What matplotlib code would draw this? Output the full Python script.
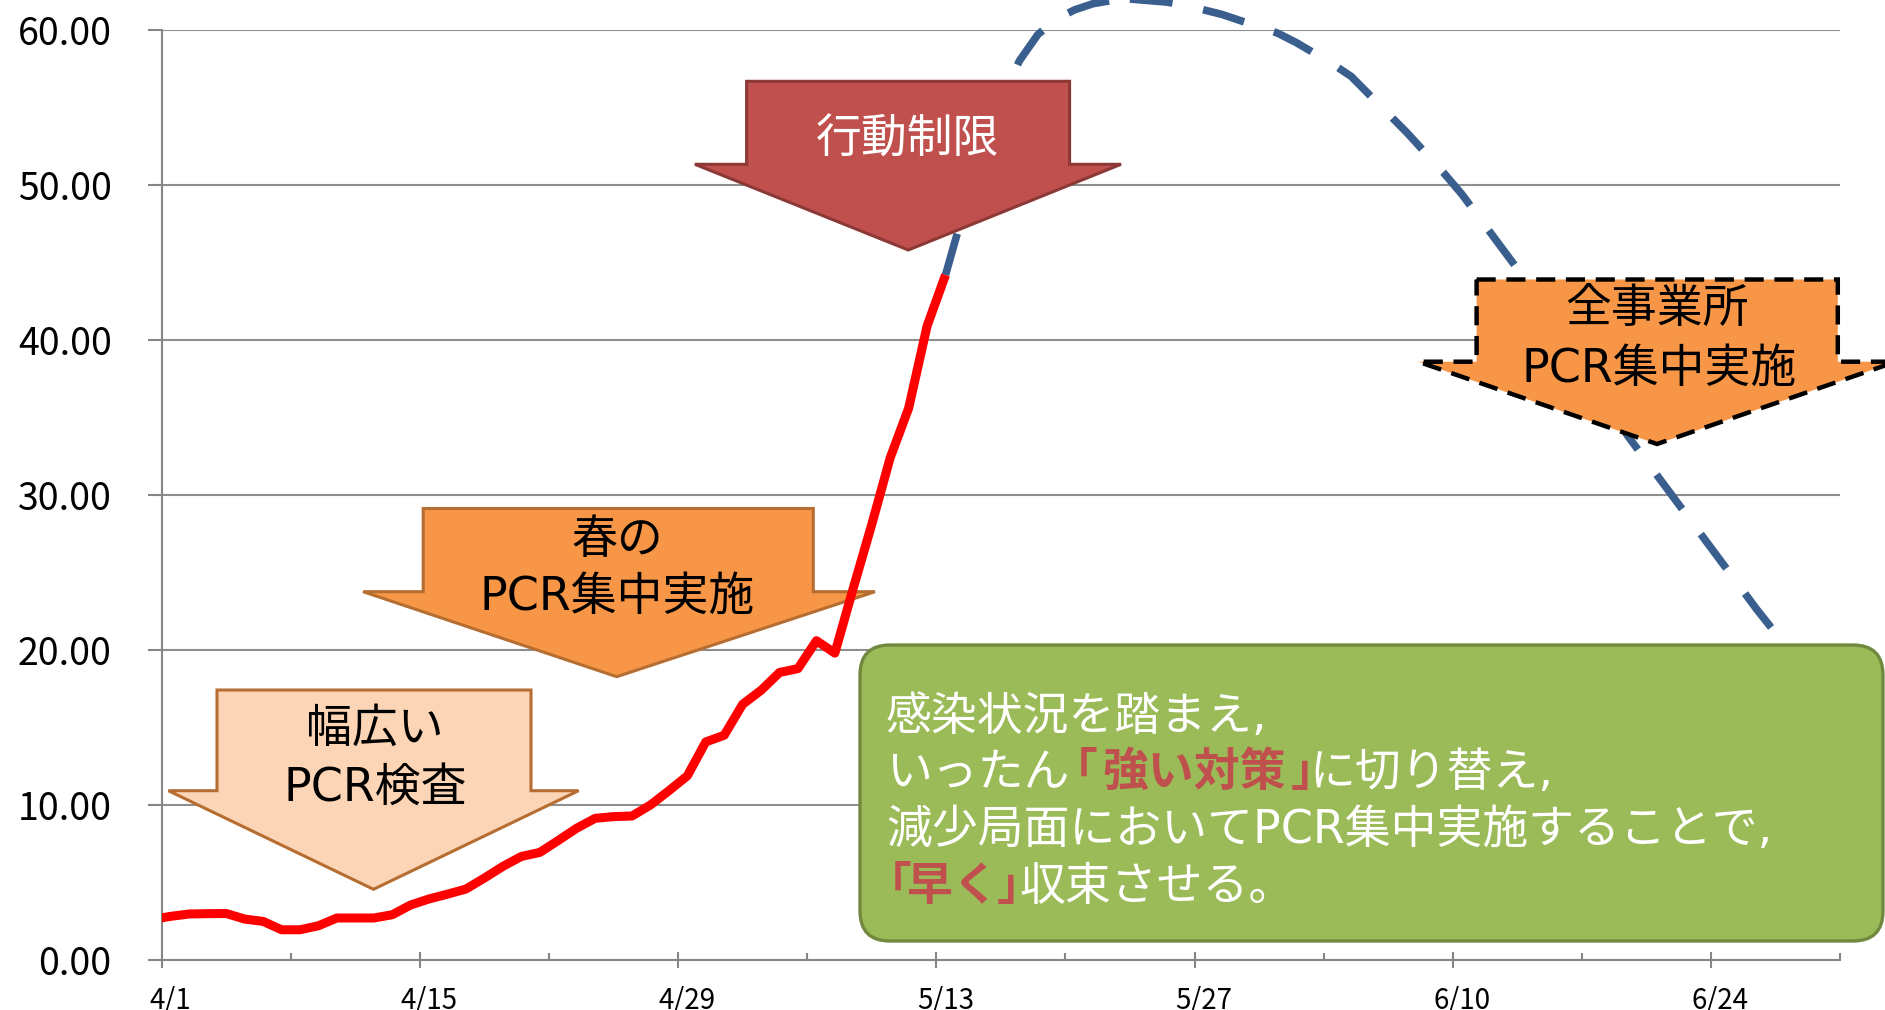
import numpy as np
import matplotlib.pyplot as plt
from matplotlib.patches import Polygon, FancyBboxPatch
from matplotlib.transforms import IdentityTransform, ScaledTranslation

plt.rcParams['font.family'] = ['DejaVu Sans', 'Noto Sans CJK JP']

# 実績（4/1からの日数、点は各日の中央 = 日数-0.5 から 1日刻み）
red_vals = [2.62, 2.82, 2.97, 2.99, 3.0, 2.64, 2.49, 1.95, 1.95, 2.21, 2.71,
            2.71, 2.71, 2.92, 3.55, 3.94, 4.25, 4.58, 5.29, 6.04, 6.68, 6.94,
            7.71, 8.5, 9.14, 9.25, 9.29, 10.0, 10.92, 11.88, 14.07, 14.5, 16.5,
            17.4, 18.55, 18.8, 20.6, 19.8, 24.0, 28.1, 32.4, 35.6, 40.9, 44.2]
# 見通し（破線、42.5日目から1日刻み）
blue_start = 42.5
blue_vals = [44.2, 48.4, 51.8, 55.3, 58.0, 59.7, 60.7, 61.3, 61.7, 61.9,
             62.0, 61.9, 61.8, 61.6, 61.3, 61.0, 60.6, 60.2, 59.8, 59.2,
             58.5, 57.8, 57.0, 55.8, 54.6, 53.4, 52.1, 50.8, 49.4, 47.8,
             46.2, 44.6, 43.0, 41.2, 39.4, 37.5, 35.6, 33.8, 32.2, 30.6,
             29.0, 27.4, 25.8, 24.2, 22.6, 21.1, 19.7, 18.3, 17.0, 15.8]

xtick_days = [0, 14, 28, 42, 56, 70, 84]
xtick_labels = ['4/1', '4/15', '4/29', '5/13', '5/27', '6/10', '6/24']
xminor_days = [7, 21, 35, 49, 63, 77, 91]
ytick_vals = [0, 10, 20, 30, 40, 50, 60]

W, H = 1885, 1010
fig = plt.figure(figsize=(W / 100, H / 100), dpi=100)
ax = fig.add_axes([161.7 / W, 1 - 960 / H, (1840 - 161.7) / W, (960 - 30) / H])

red_x = np.arange(len(red_vals)) - 0.5
blue_x = blue_start + np.arange(len(blue_vals))

ax.plot(blue_x, blue_vals, color='#3a5f8e', lw=5.5, linestyle=(0, (5.6, 4.1)),
        dash_capstyle='butt', zorder=2, clip_on=False)
ax.plot(red_x, red_vals, color='#ff0000', lw=6.5, solid_joinstyle='round',
        solid_capstyle='butt', zorder=4)

ax.set_xlim(0, 91)
ax.set_ylim(0, 60)
ax.set_xticks(xtick_days)
ax.set_xticklabels(xtick_labels)
ax.set_xticks(xminor_days, minor=True)
ax.set_yticks(ytick_vals)
ax.set_yticklabels(['%.2f' % v for v in ytick_vals])

for s in ['top', 'right']:
    ax.spines[s].set_visible(False)
for s in ['left', 'bottom']:
    ax.spines[s].set_color('#868686')
    ax.spines[s].set_linewidth(1.5)
ax.set_axisbelow(True)
ax.yaxis.grid(True, color='#8e8e8e', lw=1.5)

ax.tick_params(axis='y', direction='out', length=10, width=1.5, color='#868686',
               pad=26, labelsize=27, labelfontfamily='Noto Sans CJK JP')
ax.tick_params(axis='x', which='major', direction='inout', length=12, width=1.5,
               color='#868686', pad=13, labelsize=20,
               labelfontfamily='Noto Sans CJK JP')
ax.tick_params(axis='x', which='minor', direction='in', length=5, width=1.5,
               color='#868686')
for t in ax.xaxis.get_major_ticks():
    t.label1.set_transform(t.label1.get_transform()
                           + ScaledTranslation(0.09, 0, fig.dpi_scale_trans))

# --- 図形（ピクセル座標、左上原点） ---
idt = IdentityTransform()


def P(x, y):
    return (x, H - y)


def down_arrow(left, right, top, sh_y, sh_l, sh_r, tip, fc, ec, lw, ls='-', z=3):
    pts = [P(left, top), P(right, top), P(right, sh_y), P(sh_r, sh_y),
           P(*tip), P(sh_l, sh_y), P(left, sh_y)]
    poly = Polygon(pts, closed=True, facecolor=fc, edgecolor=ec, lw=lw,
                   linestyle=ls, joinstyle='miter', transform=idt,
                   clip_on=False, zorder=z)
    ax.add_patch(poly)


def label(x, y_center, s, color='black', size=33, weight='normal', ha='center'):
    em = size * 100 / 72
    ax.text(x, H - (y_center + 0.37 * em), s, transform=idt, ha=ha,
            va='baseline', fontsize=size, color=color, weight=weight,
            zorder=7, clip_on=False)


down_arrow(217, 531, 690, 790.7, 168.4, 578.6, (373.5, 889.3),
           '#fbd5b5', '#b66d31', 2.2)
label(375, 725, '幅広い')
label(375, 784, 'PCR検査')

down_arrow(423.2, 813.3, 508.5, 591.7, 363.1, 875, (616.7, 676.7),
           '#f79646', '#b66d31', 2.2)
label(617, 536, '春の')
label(617, 592.5, 'PCR集中実施')

down_arrow(746.6, 1069.6, 81.3, 164.3, 694.9, 1121, (908.3, 250),
           '#c0504d', '#8c3836', 2.2, z=5)
label(908, 136, '行動制限', color='white')

down_arrow(1476.6, 1837.8, 279.5, 361.7, 1418.2, 1896, (1657, 444),
           '#f79646', 'black', 3.2, ls=(0, (4.3, 2.4)), z=5)
label(1657.5, 305, '全事業所')
label(1659, 365, 'PCR集中実施')

box = FancyBboxPatch(P(860, 941), 1883 - 860, 941 - 645,
                     boxstyle='round,pad=0,rounding_size=30',
                     facecolor='#9bbb59', edgecolor='#71893f', lw=2.4,
                     transform=idt, clip_on=False, zorder=5)
ax.add_patch(box)

x0 = 886
red = '#c0504d'
label(x0, 713, '感染状況を踏まえ,', color='white', ha='left')
# 2行目：白・赤を組み合わせ（括弧は字面の位置に合わせて置く）
label(x0, 769, 'いったん', color='white', ha='left')
label(1052, 769, '「', color=red, weight='bold', ha='left')
label(1194, 769, '強い対策', color=red, weight='bold')
label(1291, 769, '」', color=red, weight='bold', ha='left')
label(1309, 769, 'に切り替え,', color='white', ha='left')
label(x0, 826, '減少局面においてPCR集中実施することで,', color='white', ha='left')
# 4行目
label(866, 883, '「', color=red, weight='bold', ha='left')
label(953, 883, '早く', color=red, weight='bold')
label(997, 883, '」', color=red, weight='bold', ha='left')
label(1019, 883, '収束させる。', color='white', ha='left')

fig.savefig('out.png', dpi=100)
